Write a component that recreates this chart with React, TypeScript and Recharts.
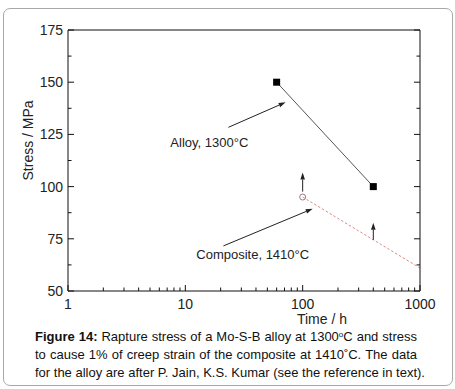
import React from 'react';
import { ComposedChart, Line, XAxis, YAxis, ReferenceLine, ReferenceDot } from 'recharts';

// alloy at 1300 C (rupture)
const alloyTime = [60, 400];
const alloyStress = [150, 100];

// composite at 1410 C (1% creep strain)
const compTime = [100, 1000];
const compStress = [95, 61];

const xMajor = [1, 10, 100, 1000];
const xMinor = [2, 3, 4, 5, 6, 7, 8, 9, 20, 30, 40, 50, 60, 70, 80, 90, 200, 300, 400, 500, 600, 700, 800, 900];
const yMajor = [50, 75, 100, 125, 150, 175];
const yMinor = [62.5, 87.5, 112.5, 137.5, 162.5];

// pointer arrows [from, to] in data units
const alloyPointer = [{ x: 23.3, y: 128.4 }, { x: 71.6, y: 140.4 }];
const compPointer = [{ x: 21.1, y: 71.6 }, { x: 121.7, y: 89.4 }];
const lowerBoundArrows = [
    [{ x: 100, y: 97.6 }, { x: 100, y: 106.7 }],
    [{ x: 400, y: 74.5 }, { x: 400, y: 82.7 }],
];

const alloyLabel = { x: 7.45, y: 121.4, text: 'Alloy, 1300°C' };
const compLabel = { x: 12.4, y: 67.8, text: 'Composite, 1410°C' };

const alloyData = alloyTime.map((t, i) => ({ time: t, stress: alloyStress[i] }));
const compData = compTime.map((t, i) => ({ time: t, stress: compStress[i] }));

const FONT = '"Liberation Sans", Arial, sans-serif';
const xTicks = [...xMajor, ...xMinor].sort((a, b) => a - b);
const yTicks = [...yMajor, ...yMinor].sort((a, b) => a - b);

const BottomTick = (props: any) => {
    const { x, y, payload } = props;
    const major = xMajor.includes(payload.value);
    return (
        <g>
            <line x1={x} x2={x} y1={y} y2={y - (major ? 6 : 3.5)} stroke="#111" strokeWidth={1} />
            {major && (
                <text x={x} y={y + 18} textAnchor="middle" fontSize={14} fontFamily={FONT} fill="#222">
                    {payload.value}
                </text>
            )}
        </g>
    );
};

const TopTick = (props: any) => {
    const { x, y, payload } = props;
    const major = xMajor.includes(payload.value);
    return <line x1={x} x2={x} y1={y} y2={y + (major ? 6 : 3.5)} stroke="#111" strokeWidth={1} />;
};

const LeftTick = (props: any) => {
    const { x, y, payload } = props;
    const major = yMajor.includes(payload.value);
    return (
        <g>
            <line x1={x} x2={x + (major ? 6 : 3.5)} y1={y} y2={y} stroke="#111" strokeWidth={1} />
            {major && (
                <text x={x - 5} y={y + 5} textAnchor="end" fontSize={14} fontFamily={FONT} fill="#222">
                    {payload.value}
                </text>
            )}
        </g>
    );
};

const RightTick = (props: any) => {
    const { x, y, payload } = props;
    const major = yMajor.includes(payload.value);
    return <line x1={x} x2={x - (major ? 6 : 3.5)} y1={y} y2={y} stroke="#111" strokeWidth={1} />;
};

const Arrow = (props: any) => {
    const { x1, y1, x2, y2 } = props;
    const dx = x2 - x1, dy = y2 - y1;
    const len = Math.sqrt(dx * dx + dy * dy) || 1;
    const ux = dx / len, uy = dy / len;
    const hl = 7, hw = 2.3;
    const bx = x2 - ux * hl, by = y2 - uy * hl;
    return (
        <g>
            <line x1={x1} y1={y1} x2={bx} y2={by} stroke="#222" strokeWidth={1} />
            <polygon
                points={`${x2},${y2} ${bx - uy * hw},${by + ux * hw} ${bx + uy * hw},${by - ux * hw}`}
                fill="#222"
            />
        </g>
    );
};

const squareDot = (p: any) => (
    <rect key={`sq-${p.index}`} x={p.cx - 3.5} y={p.cy - 3.5} width={7} height={7} fill="#000" />
);

const circleFirst = (p: any) =>
    p.index === 0 ? (
        <circle key={`c-${p.index}`} cx={p.cx} cy={p.cy} r={3} fill="none" stroke="#9c7b7b" strokeWidth={1} />
    ) : (
        <g key={`c-${p.index}`} />
    );

const textShape = (text: string) => (p: any) => (
    <text x={p.cx} y={p.cy + 5} textAnchor="start" fontSize={13} fontFamily={FONT} fill="#222">
        {text}
    </text>
);

const lineStyle: React.CSSProperties = { textAlign: 'justify', textAlignLast: 'justify', whiteSpace: 'nowrap' };

export default function App() {
    return (
        <div style={{ position: 'absolute', left: 0, top: 0, width: 455, height: 389, background: '#fff', fontFamily: FONT }}>
            <div
                style={{
                    position: 'absolute', left: 3, top: 8, width: 450, height: 378, boxSizing: 'border-box',
                    border: '1px solid #a8a8a8', borderRadius: 7,
                }}
            />
            <div style={{ position: 'absolute', left: 0, top: 0 }}>
                <ComposedChart width={455} height={330} margin={{ top: 25, right: 30, bottom: 9, left: 8 }}>
                    <XAxis
                        xAxisId="b" dataKey="time" type="number" scale="log" domain={[1, 1000]} allowDataOverflow
                        ticks={xTicks} interval={0} tickSize={0} tickMargin={0} height={30}
                        axisLine={{ stroke: '#111' }} tickLine={false} tick={BottomTick}
                        label={{ value: 'Time / h', position: 'insideBottom', offset: -3, fontSize: 14, fill: '#222', fontFamily: FONT, dx: 78 }}
                    />
                    <XAxis
                        xAxisId="t" orientation="top" type="number" scale="log" domain={[1, 1000]} allowDataOverflow
                        ticks={xTicks} interval={0} tickSize={0} tickMargin={0} height={5}
                        axisLine={{ stroke: '#111' }} tickLine={false} tick={TopTick}
                    />
                    <YAxis
                        yAxisId="l" type="number" domain={[50, 175]} allowDataOverflow
                        ticks={yTicks} interval={0} tickSize={0} tickMargin={0} width={60}
                        axisLine={{ stroke: '#111' }} tickLine={false} tick={LeftTick}
                        label={{ value: 'Stress / MPa', angle: -90, position: 'insideLeft', offset: 20, fontSize: 14, fill: '#222', fontFamily: FONT, dy: 20 }}
                    />
                    <YAxis
                        yAxisId="r" orientation="right" type="number" domain={[50, 175]} allowDataOverflow
                        ticks={yTicks} interval={0} tickSize={0} tickMargin={0} width={5}
                        axisLine={{ stroke: '#111' }} tickLine={false} tick={RightTick}
                    />

                    <Line
                        xAxisId="b" yAxisId="l" data={compData} dataKey="stress" stroke="#dd8a88" strokeWidth={1}
                        strokeDasharray="2.5 2" dot={circleFirst} activeDot={false} isAnimationActive={false}
                    />
                    <Line
                        xAxisId="b" yAxisId="l" data={alloyData} dataKey="stress" stroke="#555" strokeWidth={1}
                        dot={squareDot} activeDot={false} isAnimationActive={false}
                    />

                    <ReferenceLine xAxisId="b" yAxisId="l" segment={alloyPointer} shape={Arrow} />
                    <ReferenceLine xAxisId="b" yAxisId="l" segment={compPointer} shape={Arrow} />
                    {lowerBoundArrows.map((seg, i) => (
                        <ReferenceLine key={i} xAxisId="b" yAxisId="l" segment={seg} shape={Arrow} />
                    ))}

                    <ReferenceDot xAxisId="b" yAxisId="l" x={alloyLabel.x} y={alloyLabel.y} r={0} shape={textShape(alloyLabel.text)} />
                    <ReferenceDot xAxisId="b" yAxisId="l" x={compLabel.x} y={compLabel.y} r={0} shape={textShape(compLabel.text)} />
                </ComposedChart>
            </div>
            <div style={{ position: 'absolute', left: 35, top: 328, width: 382, fontSize: 13, lineHeight: '18px', color: '#111' }}>
                <div style={lineStyle}>
                    <b>Figure 14:</b> Rapture stress of a Mo-S-B alloy at 1300<sup style={{ fontSize: 8, verticalAlign: 'top', lineHeight: '14px' }}>o</sup>C and stress
                </div>
                <div style={lineStyle}>
                    to cause 1% of creep strain of the composite at 1410˚C. The data
                </div>
                <div style={{ whiteSpace: 'nowrap' }}>
                    for the alloy are after P. Jain, K.S. Kumar (see the reference in text).
                </div>
            </div>
        </div>
    );
}
